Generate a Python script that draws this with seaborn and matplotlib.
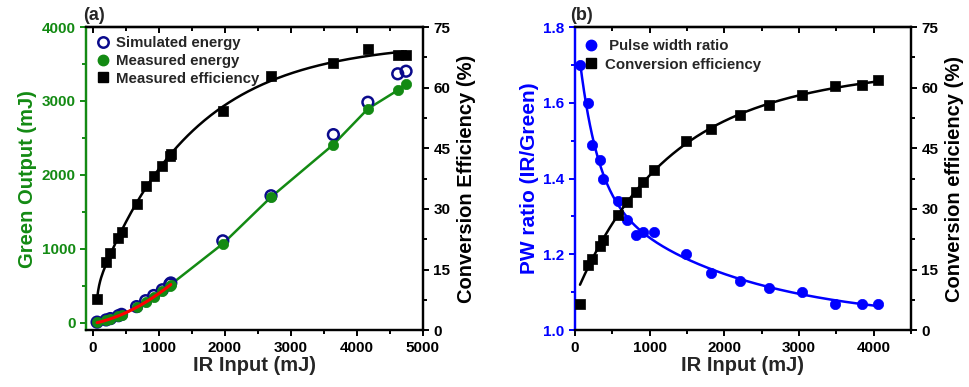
import numpy as np
import pandas as pd
import matplotlib
matplotlib.use("Agg")
import matplotlib.pyplot as plt
import seaborn as sns
from matplotlib.ticker import MultipleLocator, FormatStrFormatter
from matplotlib.lines import Line2D

sns.set_theme(style="ticks")
plt.rcParams['font.family'] = ['Liberation Sans', 'DejaVu Sans']
plt.rcParams['font.weight'] = 'bold'

# ---------------- data panel (a) ----------------
ir_a = [67, 204, 269, 391, 437, 665, 802, 924, 1056, 1167, 1183, 1970, 2700, 3644, 4166, 4618, 4744]
green_meas = [5, 34, 51, 89, 106, 208, 285, 353, 428, 502, 517, 1068, 1700, 2411, 2894, 3145, 3234]
green_sim = [8, 38, 56, 95, 113, 218, 298, 368, 446, 522, 538, 1108, 1718, 2545, 2983, 3368, 3403]
eff_a = [7.8, 16.9, 19.0, 22.8, 24.3, 31.3, 35.6, 38.2, 40.5, 43.0, 43.7, 54.2, 62.9, 66.2, 69.5, 68.2, 68.2]

# ---------------- data panel (b) ----------------
ir_b = [67, 170, 233, 335, 378, 581, 692, 813, 915, 1058, 1491, 1817, 2209, 2597, 3040, 3490, 3847, 4062]
pw_ratio = [1.70, 1.60, 1.49, 1.45, 1.40, 1.34, 1.29, 1.25, 1.26, 1.26, 1.20, 1.15, 1.13, 1.11, 1.10, 1.07, 1.07, 1.07]
eff_b = [6.5, 16.1, 17.5, 20.8, 22.3, 28.4, 31.8, 34.2, 36.7, 39.6, 46.7, 49.9, 53.3, 55.6, 58.3, 60.3, 60.7, 61.8]

GREEN = '#138a13'
NAVY = '#0a0a8c'
BLUE = '#0000ff'


def two_exp_fit(x, y, xs, bmin=30, w=None):
    """weighted least squares fit y = c0 + c1*exp(-x/b) + c2*exp(-x/d) (grid over b,d)"""
    x = np.asarray(x, float); y = np.asarray(y, float)
    w = np.ones_like(x) if w is None else np.asarray(w, float)
    best = None
    grid = np.geomspace(bmin, 20000, 70)
    for i, b in enumerate(grid):
        for d in grid[i + 1:]:
            A = np.column_stack([np.ones_like(x), np.exp(-x / b), np.exp(-x / d)])
            coef, *_ = np.linalg.lstsq(A * w[:, None], y * w, rcond=None)
            r = np.sum(((A @ coef - y) * w) ** 2)
            if best is None or r < best[0]:
                best = (r, b, d, coef)
    _, b, d, coef = best
    return coef[0] + coef[1] * np.exp(-xs / b) + coef[2] * np.exp(-xs / d)


df_a = pd.DataFrame({'ir': ir_a, 'meas': green_meas, 'sim': green_sim, 'eff': eff_a})
df_b = pd.DataFrame({'ir': ir_b, 'pw': pw_ratio, 'eff': eff_b})

fig = plt.figure(figsize=(9.69, 3.87), dpi=100)
ax1 = fig.add_axes([0.0888, 0.147, 0.3477, 0.783])
ax2 = fig.add_axes([0.5934, 0.147, 0.3466, 0.783])

TICK_FS = 11
LABEL_FS = 14.5


def style_axis(ax, color_left):
    for s in ax.spines.values():
        s.set_linewidth(1.6)
        s.set_color('black')
    ax.spines['left'].set_color(color_left)
    ax.tick_params(axis='x', which='both', direction='out', top=False, bottom=True, width=1.4,
                   labelsize=TICK_FS, colors='black')
    ax.tick_params(axis='x', which='major', length=4)
    ax.tick_params(axis='x', which='minor', length=3)
    ax.tick_params(axis='y', which='both', direction='out', width=1.4, color=color_left,
                   labelcolor=color_left, labelsize=TICK_FS)
    ax.tick_params(axis='y', which='major', length=4)
    ax.tick_params(axis='y', which='minor', length=3)


def top_ticks(ax, major, minor):
    sec = ax.secondary_xaxis('top')
    sec.xaxis.set_major_locator(MultipleLocator(major))
    sec.xaxis.set_minor_locator(MultipleLocator(minor))
    sec.tick_params(axis='x', which='both', direction='in', width=1.4, labeltop=False, colors='black')
    sec.tick_params(axis='x', which='major', length=4)
    sec.tick_params(axis='x', which='minor', length=3)
    sec.spines['top'].set_linewidth(1.6)


def bold_labels(*axes):
    for ax in axes:
        for lab in ax.get_xticklabels() + ax.get_yticklabels():
            lab.set_fontweight('bold')


# ---------------- panel (a) ----------------
ax1r = ax1.twinx()

sns.lineplot(data=df_a, x='ir', y='meas', ax=ax1, color=GREEN, lw=1.8, sort=True, zorder=2)
sns.scatterplot(data=df_a, x='ir', y='sim', ax=ax1, marker='o', s=60, facecolor='none',
                edgecolor=NAVY, linewidth=1.8, zorder=3)
sns.scatterplot(data=df_a, x='ir', y='meas', ax=ax1, marker='o', s=55, color=GREEN,
                edgecolor=GREEN, linewidth=0.5, zorder=4)
low = df_a[df_a['ir'] <= 1200]
pc = np.polyfit(low['ir'], low['meas'], 2)
xr = np.linspace(low['ir'].min(), low['ir'].max(), 100)
ax1.plot(xr, np.polyval(pc, xr), color='red', lw=2.2, zorder=5)

xs = np.linspace(min(ir_a), max(ir_a), 300)
ax1r.plot(xs, two_exp_fit(ir_a, eff_a, xs), color='black', lw=1.8, zorder=2)
sns.scatterplot(data=df_a, x='ir', y='eff', ax=ax1r, marker='s', s=45, color='black',
                edgecolor='black', linewidth=0.5, zorder=3)

ax1.set_xlim(-100, 5000)
ax1.set_ylim(-100, 4000)
ax1r.set_ylim(0, 75)
ax1.xaxis.set_major_locator(MultipleLocator(1000))
ax1.xaxis.set_minor_locator(MultipleLocator(500))
ax1.yaxis.set_major_locator(MultipleLocator(1000))
ax1.yaxis.set_minor_locator(MultipleLocator(500))
ax1r.yaxis.set_major_locator(MultipleLocator(15))
ax1r.yaxis.set_minor_locator(MultipleLocator(7.5))
style_axis(ax1, GREEN)
style_axis(ax1r, GREEN)
ax1r.tick_params(axis='y', which='both', colors='black', labelcolor='black')
top_ticks(ax1, 1000, 500)
ax1.set_xlabel('IR Input (mJ)', fontsize=LABEL_FS, fontweight='bold', labelpad=1)
ax1.set_ylabel('Green Output (mJ)', fontsize=LABEL_FS, fontweight='bold', color=GREEN, labelpad=3)
ax1r.set_ylabel('Conversion Efficiency (%)', fontsize=LABEL_FS, fontweight='bold', color='black', labelpad=5)
ax1.set_title('(a)', loc='left', fontsize=13, fontweight='bold', pad=5, x=-0.01)

h_a = [Line2D([], [], ls='none', marker='o', ms=7.5, mfc='none', mec=NAVY, mew=1.8),
       Line2D([], [], ls='none', marker='o', ms=7.5, mfc=GREEN, mec=GREEN),
       Line2D([], [], ls='none', marker='s', ms=6.5, mfc='black', mec='black')]
ax1.legend(h_a, ['Simulated energy', 'Measured energy', 'Measured efficiency'], loc='upper left',
           frameon=False, prop={'weight': 'bold', 'size': 10.8}, handletextpad=0.4,
           borderaxespad=0.2, labelspacing=0.25, handlelength=1.0, bbox_to_anchor=(0.0, 1.0))

# ---------------- panel (b) ----------------
ax2r = ax2.twinx()
xs_b = np.linspace(min(ir_b), max(ir_b), 300)
ax2.plot(xs_b, two_exp_fit(ir_b, pw_ratio, xs_b), color=BLUE, lw=1.8, zorder=2)
sns.scatterplot(data=df_b, x='ir', y='pw', ax=ax2, marker='o', s=55, color=BLUE,
                edgecolor=BLUE, linewidth=0.5, zorder=3)
w_eff_b = [0.15] + [1.0] * (len(ir_b) - 1)
ax2r.plot(xs_b, two_exp_fit(ir_b, eff_b, xs_b, bmin=150, w=w_eff_b), color='black', lw=1.8, zorder=2)
sns.scatterplot(data=df_b, x='ir', y='eff', ax=ax2r, marker='s', s=45, color='black',
                edgecolor='black', linewidth=0.5, zorder=3)

ax2.set_xlim(0, 4500)
ax2.set_ylim(1.0, 1.8)
ax2r.set_ylim(0, 75)
ax2.xaxis.set_major_locator(MultipleLocator(1000))
ax2.xaxis.set_minor_locator(MultipleLocator(500))
ax2.yaxis.set_major_locator(MultipleLocator(0.2))
ax2.yaxis.set_minor_locator(MultipleLocator(0.1))
ax2r.yaxis.set_major_locator(MultipleLocator(15))
ax2r.yaxis.set_minor_locator(MultipleLocator(7.5))
style_axis(ax2, BLUE)
style_axis(ax2r, BLUE)
ax2r.tick_params(axis='y', which='both', colors='black', labelcolor='black')
top_ticks(ax2, 1000, 500)
ax2.yaxis.set_major_formatter(FormatStrFormatter('%.1f'))
ax2.set_xlabel('IR Input (mJ)', fontsize=LABEL_FS, fontweight='bold', labelpad=1)
ax2.set_ylabel('PW ratio (IR/Green)', fontsize=15, fontweight='bold', color=BLUE, labelpad=3)
ax2r.set_ylabel('Conversion efficiency (%)', fontsize=LABEL_FS, fontweight='bold', color='black', labelpad=5)
ax2.set_title('(b)', loc='left', fontsize=13, fontweight='bold', pad=5, x=-0.015)

h_b = [Line2D([], [], ls='none', marker='o', ms=7.5, mfc=BLUE, mec=BLUE),
       Line2D([], [], ls='none', marker='s', ms=6.5, mfc='black', mec='black')]
ax2.legend(h_b, [' Pulse width ratio', 'Conversion efficiency'], loc='upper left',
           frameon=False, prop={'weight': 'bold', 'size': 10.8}, handletextpad=0.4,
           borderaxespad=0.4, labelspacing=0.3, handlelength=1.0, bbox_to_anchor=(-0.01, 1.0))

bold_labels(ax1, ax1r, ax2, ax2r)

fig.savefig('out.png', dpi=100)
